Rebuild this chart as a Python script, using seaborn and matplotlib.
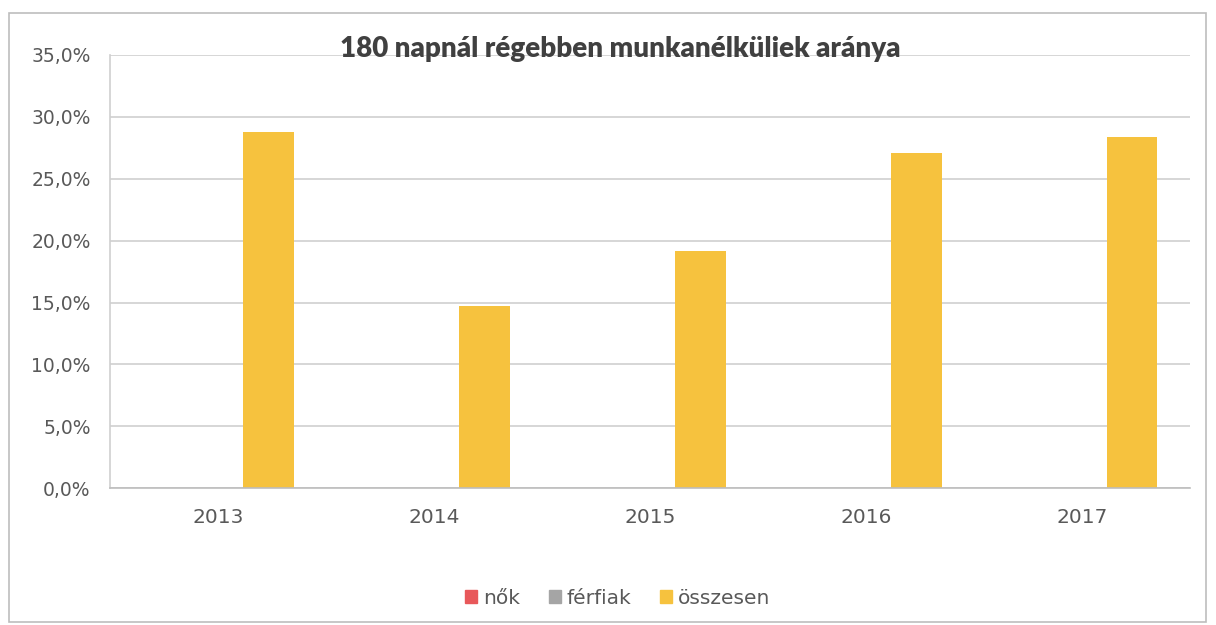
import matplotlib
matplotlib.use('Agg')
import matplotlib.pyplot as plt
import matplotlib.ticker as mticker
from matplotlib.patches import Rectangle
import pandas as pd
import seaborn as sns

# Data (percent)
years    = ['2013', '2014', '2015', '2016', '2017']
nok      = [0.0, 0.0, 0.0, 0.0, 0.0]
ferfiak  = [0.0, 0.0, 0.0, 0.0, 0.0]
osszesen = [28.8, 14.7, 19.2, 27.1, 28.4]
series   = ['nők', 'férfiak', 'összesen']
colors   = ['#E8585A', '#A5A5A5', '#F6C23E']

df = pd.DataFrame({
    'year'  : years * 3,
    'value' : nok + ferfiak + osszesen,
    'series': [series[0]] * 5 + [series[1]] * 5 + [series[2]] * 5,
})

sns.set_style('white')
plt.rcParams['font.family'] = ['DejaVu Sans']
text_gray = '#595959'

fig = plt.figure(figsize=(12.16, 6.25), dpi=100)
ax = fig.add_axes([0.0905, 0.219, 0.888, 0.693])

sns.barplot(data=df, x='year', y='value', hue='series', hue_order=series,
            palette=colors, width=0.7, linewidth=0, saturation=1, ax=ax)

ax.set_ylim(0, 35)
ax.set_xlim(-0.5, 4.5)
ax.yaxis.set_major_locator(mticker.MultipleLocator(5))
ax.yaxis.set_major_formatter(mticker.FuncFormatter(lambda v, p: f'{v:.1f}'.replace('.', ',') + '%'))
ax.grid(axis='y', color='#CFCFCF', linewidth=1.2)
ax.set_axisbelow(True)
ax.set_xlabel('')
ax.set_ylabel('')

for side in ['top', 'right']:
    ax.spines[side].set_visible(False)
ax.spines['left'].set_color('#CFCFCF')
ax.spines['bottom'].set_color('#BDBDBD')
ax.spines['left'].set_linewidth(1.2)
ax.spines['bottom'].set_linewidth(1.2)

# category boundary ticks
ax.set_xticks([0.5, 1.5, 2.5, 3.5], minor=True)
ax.tick_params(axis='x', which='minor', length=6, color='#BDBDBD', width=1.2)
ax.tick_params(axis='x', which='major', length=0, pad=14, labelsize=14.5, labelcolor=text_gray)
ax.tick_params(axis='y', length=0, pad=14, labelsize=13.5, labelcolor=text_gray)

# title
fig.text(0.51, 0.922, '180 napnál régebben munkanélküliek aránya', ha='center', va='center',
         fontsize=20, fontweight='heavy', color='#404040', family=['Lato', 'DejaVu Sans'])

# legend
ax.get_legend().remove()
handles = [Rectangle((0, 0), 1, 1, color=c) for c in colors]
leg = fig.legend(handles, series, loc='center', bbox_to_anchor=(0.508, 0.043), ncol=3,
                 frameon=False, fontsize=14.5, handlelength=0.6, handleheight=0.6,
                 handletextpad=0.3, columnspacing=1.4)
for t in leg.get_texts():
    t.set_color(text_gray)

# outer frame of the chart
fig.patches.append(Rectangle((0.007, 0.005), 0.985, 0.975, transform=fig.transFigure,
                             fill=False, edgecolor='#BDBDBD', linewidth=1.2))

fig.savefig('out.png', dpi=100, facecolor='white')
